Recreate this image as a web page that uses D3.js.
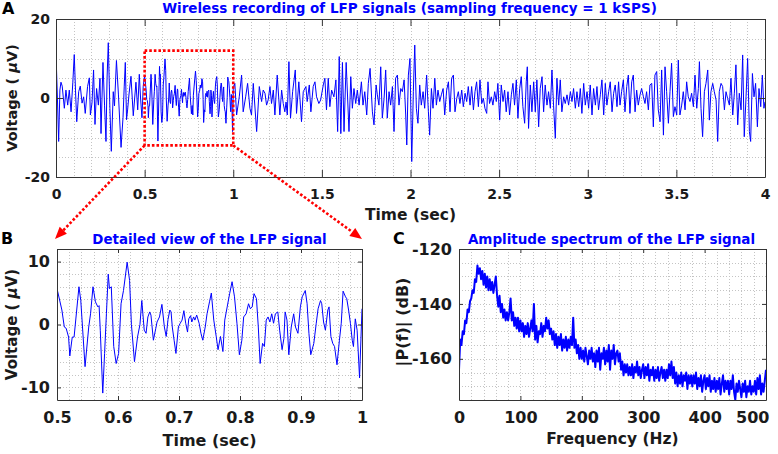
<!DOCTYPE html>
<html><head><meta charset="utf-8">
<script src="https://cdn.jsdelivr.net/npm/d3@7"></script>
<style>
body{margin:0;background:#fff}
svg{display:block}
text{font-family:"DejaVu Sans",sans-serif;font-weight:bold}
</style>
</head><body>
<svg id="fig" width="778" height="454"></svg>
<script>
// ---------------- DATA ----------------
// Panel A: LFP recording, [time (ms), voltage (uV)]
const lfp_0_500 = [[0,11.3],[8,0],[15,-11],[22,2],[28,4],[35,3],[47,-2.6],[56,2],[66,-1.8],[75,2],[85,-3.5],[95,4],[103,11],[110,2],[117,-6],[128,1.6],[137,3],[147,-1.3],[156,0.3],[165,-3.9],[178,2.9],[188,5.1],[194,-4.3],[203,-1.3],[212,7.1],[220,-6.7],[229,2.4],[239,-1.8],[248,5],[254,-9],[265,9],[274,-2],[282,-11],[288,5],[295,14],[304,-2.6],[312,-13.5],[323,1.6],[330,-2],[341,9.5],[352,1],[367,-12.5],[378,-5],[385,3],[391,9],[398,-5.5],[404,-3],[412,1],[423,5.5],[436,-4.5],[451,4],[461,-3],[470,6],[477,0],[485,-5],[492,3]];
// 0.5 - 1.0 s (also the detailed view, panel B)
const lfpDetail = [[500,5.7],[508,2.3],[512,-0.4],[515,-0.6],[519,-2],[521,-5],[525,-2],[528,-2],[536,6],[539,3.8],[546,-6.7],[552,-0.4],[555,1.7],[559,6],[563,3.6],[567,2.8],[569,3],[571,-1],[575,-10.9],[578,-4.6],[581,1.7],[584,8],[586,5.7],[589,6],[593,-3.5],[597,-6.2],[601,-4.6],[605,3.3],[609,5.4],[615,9.9],[619,7],[622,0],[627,-5.9],[632,-2],[636,0],[639,3.8],[643,-0.9],[646,-1.4],[649,1.2],[652,2],[654,1.5],[658,-2.5],[662,-0.6],[664,0.4],[668,1.2],[672,3.2],[676,-0.4],[679,-1.9],[682,0.8],[685,2.3],[687,2],[689,-0.4],[692,-2.5],[695,-4.6],[699,-0.4],[702,0.2],[705,0.7],[708,2.2],[711,0.2],[714,-1.2],[716,0.9],[719,1.4],[721,0.4],[724,1.2],[726,0.7],[729,1.5],[733,0.2],[736,-1.4],[739,-2.5],[743,-0.4],[746,1.7],[750,3.6],[753,5],[757,0.7],[761,-1.9],[764,-4],[768,-1.9],[772,-4.3],[775,0.7],[779,2.8],[783,4.9],[787,6.8],[791,4.4],[795,0.2],[799,-4.8],[803,-2.5],[806,1.2],[810,1.7],[814,3.3],[817,2.5],[820,2.8],[823,4.9],[827,4.1],[830,-0.4],[833,-6.2],[837,-3],[840,-3.5],[843,0.7],[846,1.2],[849,0.4],[852,1.7],[855,0.2],[858,1.7],[862,2],[865,-0.9],[869,-4],[872,-2.2],[874,2],[877,0.7],[880,-4.8],[884,-0.4],[888,1.7],[891,-0.4],[895,-1.4],[899,2.8],[902,4.4],[907,5.4],[910,3.3],[913,-1.4],[916,-4.8],[921,-3],[925,0.2],[928,2.5],[932,3.8],[934,3.3],[937,0.4],[940,-0.9],[944,2.3],[946,2.8],[949,-1.9],[952,-3],[955,-3.5],[959,-6.4],[963,-2.5],[966,0.2],[969,5.3],[973,4.4],[975,4.1],[978,2.3],[981,0.2],[984,-2.5],[986,-3.5],[989,0.9],[992,-0.9],[996,-8.5],[1000,2.5]];
const lfp_1000_1660 = [[1009,3.7],[1019,-4.3],[1034,0.3],[1047,5.8],[1056,-3.5],[1070,0.3],[1081,3.7],[1094,-2.6],[1103,-4.3],[1113,3.7],[1132,-8.5],[1147,2.9],[1160,-0.9],[1169,2],[1179,1.2],[1188,-1.8],[1197,-0.5],[1207,2.9],[1216,-1.4],[1226,2],[1235,-4.3],[1248,5.8],[1263,-4.3],[1273,2],[1282,-1.4],[1291,-3.5],[1298,-1],[1305,-4.3],[1314,9.2],[1323,-5.1],[1335,1.6],[1350,7.1],[1357,-3.9],[1370,4.1],[1385,-6],[1395,1.6],[1410,2.9],[1417,-0.9],[1429,3.3],[1438,-3.5],[1451,2.9],[1461,4.1],[1470,0.3],[1483,-1.4],[1493,-0.5],[1508,3.3],[1517,5],[1526,-3],[1536,5],[1545,-2.2],[1555,2],[1568,0.3],[1579,4.6],[1589,-8.5],[1598,10.5],[1607,-9],[1616,9],[1625,-8.5],[1637,9],[1653,-8.5]];
const lfp_1660_2435 = [[1663,5.4],[1672,-2.6],[1681,2.4],[1691,-1.4],[1700,2],[1710,-1.8],[1723,4.1],[1732,-1.8],[1742,1.6],[1753,-4.3],[1762,3.7],[1772,7.5],[1785,-3.5],[1794,-6.8],[1806,3.3],[1813,0.8],[1822,-1.8],[1832,7.9],[1841,-5.1],[1851,-0.1],[1860,7.1],[1869,-5.1],[1879,1.6],[1888,-1.8],[1898,2.9],[1907,-8.5],[1916,5],[1926,5.8],[1935,-1.8],[1945,2.4],[1954,1.6],[1964,4.6],[1973,-4.3],[1979,-11.9],[1988,5.8],[1997,10],[2007,-16.1],[2016,1.6],[2024,13.4],[2033,-2.6],[2042,-6.4],[2052,3.3],[2061,-1.8],[2071,1.6],[2080,-2.6],[2091,5.8],[2101,-3.5],[2108,-9.4],[2118,2.4],[2127,-2.6],[2137,5],[2146,-1.8],[2155,2],[2165,-0.9],[2174,0.8],[2184,2.4],[2193,-4.3],[2204,2],[2214,4.1],[2223,-3.5],[2232,5],[2242,5.8],[2251,-3.5],[2261,-0.1],[2270,1.6],[2279,-1.4],[2289,2],[2298,-2.2],[2308,1.2],[2317,-0.9],[2326,2.9],[2336,-1.8],[2345,2.9],[2355,-3],[2364,1.6],[2373,4.1],[2383,-2.2],[2392,4.6],[2402,-1.4],[2411,-0.1],[2420,-2.6],[2430,-3.9]];
const lfp_2435_3180 = [[2437,4.1],[2446,-1.4],[2456,0.3],[2465,-1.8],[2475,1.6],[2484,-0.9],[2493,3.7],[2503,-5.6],[2512,3.3],[2522,-0.9],[2531,2],[2540,-3.5],[2550,1.6],[2559,-4.3],[2569,0.8],[2578,3.7],[2587,-1.8],[2597,4.6],[2606,-5.1],[2616,2.4],[2625,5.4],[2634,-2.2],[2644,-6.4],[2653,4.1],[2659,7.9],[2666,-7.7],[2676,3.3],[2685,-3.5],[2695,4.1],[2704,-3.5],[2713,4.6],[2723,-7.3],[2732,2.4],[2742,5.4],[2751,-3.5],[2760,3.3],[2770,-1.8],[2779,1.6],[2789,-2.6],[2798,7.1],[2807,-1.8],[2817,-10.2],[2826,5],[2836,-1.8],[2845,4.6],[2854,-3.5],[2864,0.3],[2873,-1.4],[2883,0.8],[2892,-1.8],[2902,1.6],[2911,-0.9],[2920,2.4],[2930,-2.6],[2939,1.6],[2949,-2.2],[2958,2.4],[2967,-3.9],[2977,3.7],[2986,-1.8],[2996,1.6],[3005,-2.6],[3014,3.3],[3024,-4.3],[3033,2.4],[3043,-1.8],[3052,2.9],[3061,-3],[3071,0.8],[3080,4.6],[3090,-4.3],[3099,3.7],[3108,-1.8],[3118,1.6],[3127,4.1],[3137,-3.5],[3146,1.2],[3155,3.3],[3165,-2.2],[3174,4.1]];
const lfp_3180_4000 = [[3182,-1.8],[3191,1.6],[3201,4.6],[3210,-3.5],[3220,2.9],[3229,5.8],[3238,-3.9],[3248,4.1],[3257,5.8],[3267,-3.5],[3276,2],[3285,-1.8],[3295,0.8],[3304,2.4],[3314,0.3],[3323,-1.4],[3332,1.6],[3342,-3],[3351,3.3],[3361,3.7],[3370,-7.3],[3379,5.8],[3389,6.7],[3398,-3],[3408,-6],[3417,7.1],[3427,-9.4],[3436,7.9],[3445,1.6],[3455,-6.4],[3464,1.6],[3473,8.8],[3483,-4.7],[3492,-2.2],[3502,-4.3],[3511,9.6],[3520,-4.3],[3530,-1.8],[3539,1.6],[3549,-3],[3558,4.1],[3567,0.3],[3577,-0.9],[3586,1.2],[3596,-2.2],[3605,5.8],[3615,-2.6],[3624,2.4],[3630,9.2],[3639,-2.6],[3648,-9.8],[3658,1.6],[3667,3.7],[3677,7.1],[3686,-5.6],[3695,1.6],[3705,3.7],[3714,1.6],[3724,-0.5],[3733,-11],[3742,1.6],[3752,3.7],[3761,2.9],[3771,-3],[3780,1.6],[3789,-0.1],[3799,-1.8],[3808,5],[3818,-4.3],[3827,1.2],[3836,8.4],[3846,-6.8],[3855,1.2],[3865,-3],[3874,10.9],[3883,-9.8],[3893,0.3],[3902,10],[3912,-8.5],[3919,-11],[3929,6.2],[3938,0.3],[3947,3.7],[3957,-7.3],[3966,2.4],[3976,-2.2],[3985,5.8],[3994,-2.6],[4000,-1]];

// Panel C: amplitude spectrum (dB), one value every 2 Hz from 0 to 500 Hz
const spectrumStepHz = 2;
const spectrumDb = [
-164,-153,-155,-150,-151,-146,-147,-142,-143,-139,
-138,-135,-136,-131,-132,-126,-129,-127,-131,-128,
-133,-129,-134,-130,-135,-131,-135,-132,-136,-133,
-130,-137,-141,-137,-143,-140,-145,-142,-146,-143,
-146,-143,-138,-146,-143,-148,-145,-149,-145,-150,
-146,-150,-147,-152,-148,-151,-147,-152,-149,-146,
-150,-140,-153,-148,-154,-150,-151,-147,-152,-148,
-150,-145,-149,-146,-151,-149,-153,-150,-155,-151,
-156,-152,-155,-151,-157,-153,-156,-152,-157,-153,
-156,-152,-155,-145,-156,-153,-158,-155,-160,-156,
-160,-157,-161,-156,-159,-162,-157,-160,-156,-161,
-158,-163,-157,-161,-156,-164,-158,-160,-156,-162,
-157,-161,-155,-164,-157,-160,-155,-162,-158,-157,
-161,-158,-164,-161,-166,-162,-165,-162,-166,-163,
-166,-162,-167,-163,-165,-161,-166,-163,-167,-164,
-162,-167,-163,-166,-162,-168,-164,-166,-163,-168,
-164,-167,-163,-168,-165,-163,-167,-164,-168,-164,
-167,-162,-166,-161,-167,-163,-169,-165,-170,-166,
-169,-165,-170,-166,-168,-165,-171,-166,-169,-166,
-170,-166,-169,-165,-171,-167,-170,-166,-172,-168,
-166,-171,-167,-170,-166,-172,-168,-171,-167,-172,
-168,-171,-167,-173,-169,-166,-172,-168,-171,-168,
-173,-168,-171,-166,-172,-175,-169,-172,-168,-171,
-174,-169,-172,-168,-174,-170,-172,-168,-173,-170,
-172,-168,-173,-167,-171,-166,-173,-169,-172,-168,
-164];

// Zoom window shown in panel B (seconds, microvolts)
const zoomTime = [0.5, 1.0];
const zoomVolt = [-12, 12];

// Axis ticks
const ticksAx = [0,0.5,1,1.5,2,2.5,3,3.5,4];
const ticksAy = [-20,0,20];
const ticksBx = [0.5,0.6,0.7,0.8,0.9,1];
const ticksBy = [-10,0,10];
const ticksCx = [0,100,200,300,400,500];
const ticksCy = [-160,-140,-120];

// Texts
const titleA = "Wireless recording of LFP signals (sampling frequency = 1 kSPS)";
const titleB = "Detailed view of the LFP signal";
const titleC = "Amplitude spectrum of the LFP signal";

// ---------------- DRAW ----------------
const svg = d3.select("#fig");
const AX = "#333333", GRID = "#c4c4c4", BLUE = "#0000ff", RED = "#ff0000";

function panel(o){
  const g = svg.append("g");
  const x = d3.scaleLinear().domain(o.xd).range([o.l, o.r]);
  const y = d3.scaleLinear().domain(o.yd).range([o.b, o.t]);
  const nx = Math.round((o.xd[1]-o.xd[0])/o.xm), ny = Math.round((o.yd[1]-o.yd[0])/o.ym);
  const gx = d3.range(1, nx).map(i => o.xd[0] + i*o.xm);
  const gy = d3.range(1, ny).map(i => o.yd[0] + i*o.ym);
  const grid = g.append("g").attr("stroke", GRID).attr("stroke-width", 1).attr("stroke-dasharray", "1,2");
  grid.selectAll(".gx").data(gx).join("line").attr("class","gx")
    .attr("x1", d => Math.round(x(d))+0.5).attr("x2", d => Math.round(x(d))+0.5)
    .attr("y1", o.t).attr("y2", o.b);
  grid.selectAll(".gy").data(gy).join("line").attr("class","gy")
    .attr("y1", d => Math.round(y(d))+0.5).attr("y2", d => Math.round(y(d))+0.5)
    .attr("x1", o.l).attr("x2", o.r);
  const cid = "clip" + o.id;
  svg.append("clipPath").attr("id", cid).append("rect")
    .attr("x", o.l).attr("y", o.t).attr("width", o.r-o.l).attr("height", o.b-o.t);
  const line = d3.line().x(d => x(o.fx(d))).y(d => y(o.fy(d)));
  g.append("path").datum(o.data).attr("clip-path", `url(#${cid})`)
    .attr("fill", "none").attr("stroke", BLUE).attr("stroke-width", o.sw)
    .attr("stroke-linejoin", "round").attr("d", line);
  const fmt = d => String(d);
  const style = sel => {
    sel.selectAll(".domain").attr("stroke", AX);
    sel.selectAll(".tick line").attr("stroke", AX);
    sel.selectAll("text").attr("fill", "#1a1a1a").style("font-size", o.fs + "px")
      .style("font-family", "'DejaVu Sans',sans-serif").style("font-weight", "bold");
  };
  const bottom = g.append("g").attr("transform", `translate(0,${o.b})`)
    .call(d3.axisBottom(x).tickValues(o.xt).tickSizeInner(-o.tl).tickSizeOuter(0).tickPadding(o.xp).tickFormat(fmt)).call(style);
  g.append("g").attr("transform", `translate(0,${o.t})`)
    .call(d3.axisTop(x).tickValues(o.xt).tickSizeInner(-o.tl).tickSizeOuter(0).tickFormat("")).call(style);
  g.append("g").attr("transform", `translate(${o.l},0)`)
    .call(d3.axisLeft(y).tickValues(o.yt).tickSizeInner(-o.tl).tickSizeOuter(0).tickPadding(o.yp).tickFormat(fmt)).call(style);
  g.append("g").attr("transform", `translate(${o.r},0)`)
    .call(d3.axisRight(y).tickValues(o.yt).tickSizeInner(-o.tl).tickSizeOuter(0).tickFormat("")).call(style);
  g.selectAll(".domain").attr("fill","none");
  return {x, y, g, bottom};
}

const ms = d => d[0] / 1000;
const fullSignal = [].concat(lfp_0_500, lfpDetail, lfp_1000_1660, lfp_1660_2435, lfp_2435_3180, lfp_3180_4000);

const A = panel({id:"A", l:56, r:765, t:19, b:177, xd:[0,4], yd:[-20,20], xm:0.1, ym:5,
  xt:ticksAx, yt:ticksAy, tl:7, fs:14, xp:12, yp:6, sw:1,
  data: fullSignal, fx: ms, fy: d => d[1]});
const B = panel({id:"B", l:57, r:362, t:249, b:400, xd:[0.5,1], yd:[-12,12], xm:0.02, ym:2,
  xt:ticksBx, yt:ticksBy, tl:4, fs:16, xp:12, yp:7, sw:1,
  data: lfpDetail, fx: ms, fy: d => d[1]});
const C = panel({id:"C", l:459, r:766, t:249, b:400, xd:[0,500], yd:[-175,-120], xm:20, ym:5,
  xt:ticksCx, yt:ticksCy, tl:4, fs:16, xp:12, yp:7, sw:2,
  data: spectrumDb.map((v,i) => [i*spectrumStepHz, v]), fx: d => d[0], fy: d => d[1]});
// keep the last frequency label inside the figure, as in the reference
C.bottom.selectAll(".tick text").filter(d => d === 500).attr("text-anchor", "end").attr("x", 3);

// titles & labels
function txt(x, y, s, size, opts={}){
  const t = svg.append("text").attr("x", x).attr("y", y).style("font-size", size+"px")
    .attr("fill", opts.fill || "#1a1a1a").attr("text-anchor", opts.anchor || "middle").text(s);
  if (opts.rot) t.attr("transform", `rotate(-90,${x},${y})`);
  return t;
}
txt(409.5, 13, titleA, 13.5, {fill:BLUE});
txt(209.5, 243.5, titleB, 13.4, {fill:BLUE});
txt(611.5, 244, titleC, 13.5, {fill:BLUE});
txt(2, 14, "A", 16, {anchor:"start", fill:"#000"});
txt(1, 243.5, "B", 16, {anchor:"start", fill:"#000"});
txt(393, 244, "C", 16, {anchor:"start", fill:"#000"});

txt(410.5, 220, "Time (sec)", 15.5);
txt(209.5, 446, "Time (sec)", 16);
txt(612.5, 444, "Frequency (Hz)", 15.5);

function voltLabel(x, y, size){
  const t = svg.append("text").attr("x", x).attr("y", y).attr("text-anchor","middle")
    .style("font-size", size+"px").attr("fill","#1a1a1a")
    .attr("transform", `rotate(-90,${x},${y})`);
  t.append("tspan").text("Voltage ( ");
  t.append("tspan").style("font-style","italic").text("μ");
  t.append("tspan").text("V)");
}
voltLabel(16.5, 98, 14.5);
voltLabel(17, 324.5, 15);
txt(408, 322, "|P(f)| (dB)", 16, {rot:true});

// red dotted zoom window and arrows
const red = svg.append("g").attr("stroke", RED).attr("fill", "none")
  .attr("stroke-width", 2.6).attr("stroke-dasharray", "2.6,2");
const bx0 = A.x(zoomTime[0]), bx1 = A.x(zoomTime[1]), by0 = A.y(zoomVolt[1]), by1 = A.y(zoomVolt[0]);
red.append("rect").attr("x", bx0).attr("y", by0).attr("width", bx1-bx0).attr("height", by1-by0);

function arrow(sx, sy, tx, ty){
  const dx = tx-sx, dy = ty-sy, len = Math.hypot(dx, dy), ux = dx/len, uy = dy/len;
  const L = 12, W = 10, cx = tx-ux*L, cy = ty-uy*L, nx = -uy, ny = ux;
  red.append("line").attr("x1", sx).attr("y1", sy).attr("x2", cx).attr("y2", cy);
  svg.append("path").attr("fill", RED).attr("stroke", "none")
    .attr("d", `M${tx},${ty}L${cx+nx*W/2},${cy+ny*W/2}L${cx-nx*W/2},${cy-ny*W/2}Z`);
}
arrow(bx0, by1, B.x.range()[0]-2, B.y.range()[1]-10);
arrow(bx1, by1, B.x.range()[1], B.y.range()[1]-10);
</script>
</body></html>
